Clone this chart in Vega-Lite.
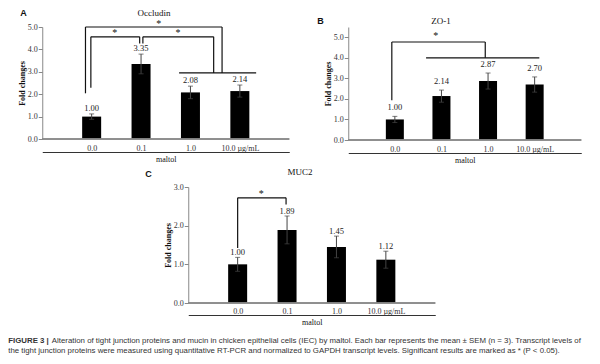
{
  "$schema": "https://vega.github.io/schema/vega-lite/v6.json",
  "background": "white",
  "padding": {"left": 8, "top": 8, "right": 5, "bottom": 5},
  "title": {
    "text": ["\u200b\u00a0\u00a0\u00a0\u00a0\u00a0\u00a0\u00a0\u00a0\u00a0\u00a0\u00a0\u00a0\u00a0\u00a0\u00a0\u00a0\u00a0\u00a0\u00a0\u00a0Alteration of tight junction proteins and mucin in chicken epithelial cells (IEC) by maltol. Each bar represents the mean \u00b1 SEM (n = 3). Transcript levels of", "the tight junction proteins were measured using quantitative RT-PCR and normalized to GAPDH transcript levels. Significant results are marked as * (P < 0.05)."],
    "orient": "bottom", "anchor": "start", "frame": "bounds",
    "font": "Liberation Sans", "fontSize": 7.85, "fontWeight": "normal", "color": "#333",
    "lineHeight": 9.5, "offset": -7.85
  },
  "vconcat": [
    {
      "title": {"text": "FIGURE 3 |", "orient": "bottom", "anchor": "start", "frame": "bounds",
        "font": "Liberation Sans", "fontSize": 7.85, "fontWeight": "bold", "color": "#333", "offset": 11, "dx": -10},
      "center": true,
      "spacing": 4,
      "vconcat": [
        {
          "spacing": 27,
          "hconcat": [
            {
              "title": {"text": "A", "anchor": "start", "frame": "bounds", "font": "Liberation Sans", "fontSize": 9, "fontWeight": "bold", "color": "#111", "offset": -9, "dx": 2},
              "vconcat": [
                {
                  "width": 247, "height": 112,
                  "title": {"text": "Occludin", "anchor": "middle", "frame": "bounds", "offset": 1},
                  "data": {"values": [
                    {"pos": 0, "mean": 1.00, "lo": 0.88, "hi": 1.12},
                    {"pos": 1, "mean": 3.35, "lo": 2.91, "hi": 3.79},
                    {"pos": 2, "mean": 2.08, "lo": 1.80, "hi": 2.36},
                    {"pos": 3, "mean": 2.14, "lo": 1.87, "hi": 2.41}
                  ]},
                  "layer": [
                    {
                      "mark": {"type": "bar", "size": 19, "color": "black"},
                      "encoding": {
                        "x": {"field": "pos", "type": "quantitative", "scale": {"domain": [-0.5, 3.5]}, "axis": {"title": "maltol", "values": [0, 1, 2, 3], "labelExpr": "['0.0','0.1','1.0','10.0 \u00b5g/mL'][datum.value]", "offset": 13, "ticks": false, "domainColor": "#333", "labelBaseline": "alphabetic", "labelPadding": -2, "titlePadding": 3, "labelOverlap": false, "labelFlush": false, "labelBound": false}},
                        "y": {"field": "mean", "type": "quantitative", "scale": {"domain": [0, 5]}, "axis": {"title": "Fold changes", "values": [0, 1, 2, 3, 4, 5], "format": ".1f", "labelOverlap": false}}
                      }
                    },
                    {
                      "mark": {"type": "errorbar", "ticks": {"size": 5}, "color": "#444"},
                      "encoding": {
                        "x": {"field": "pos", "type": "quantitative", "axis": {"title": "maltol", "values": [0, 1, 2, 3], "labelExpr": "['0.0','0.1','1.0','10.0 \u00b5g/mL'][datum.value]", "offset": 13, "ticks": false, "domainColor": "#333", "labelBaseline": "alphabetic", "labelPadding": -2, "titlePadding": 3, "labelOverlap": false, "labelFlush": false, "labelBound": false}},
                        "y": {"field": "lo", "type": "quantitative", "axis": {"title": "Fold changes", "values": [0, 1, 2, 3, 4, 5], "format": ".1f", "labelOverlap": false}},
                        "y2": {"field": "hi"}
                      }
                    },
                    {
                      "mark": {"type": "text", "baseline": "bottom", "dy": -1, "fontSize": 8.5, "color": "#222"},
                      "encoding": {
                        "x": {"field": "pos", "type": "quantitative", "axis": {"title": "maltol", "values": [0, 1, 2, 3], "labelExpr": "['0.0','0.1','1.0','10.0 \u00b5g/mL'][datum.value]", "offset": 13, "ticks": false, "domainColor": "#333", "labelBaseline": "alphabetic", "labelPadding": -2, "titlePadding": 3, "labelOverlap": false, "labelFlush": false, "labelBound": false}},
                        "y": {"field": "hi", "type": "quantitative", "axis": {"title": "Fold changes", "values": [0, 1, 2, 3, 4, 5], "format": ".1f", "labelOverlap": false}},
                        "text": {"field": "mean", "type": "quantitative", "format": ".2f"}
                      }
                    },
                    {
                      "mark": {"type": "rule", "color": "#888"},
                      "encoding": {"y": {"datum": 0, "type": "quantitative", "axis": {"title": "Fold changes", "values": [0, 1, 2, 3, 4, 5], "format": ".1f", "labelOverlap": false}}}
                    },
                    {
                      "data": {"values": [
                        {"x": -0.125, "x2": -0.125, "y": 2.04, "y2": 5.0},
                        {"x": -0.125, "x2": 2.64, "y": 5.0, "y2": 5.0},
                        {"x": 2.64, "x2": 2.64, "y": 2.95, "y2": 5.0},
                        {"x": -0.016, "x2": -0.016, "y": 2.29, "y2": 4.56},
                        {"x": -0.016, "x2": 0.972, "y": 4.56, "y2": 4.56},
                        {"x": 0.972, "x2": 0.972, "y": 4.26, "y2": 4.56},
                        {"x": 1.037, "x2": 1.037, "y": 4.26, "y2": 4.56},
                        {"x": 1.037, "x2": 2.47, "y": 4.56, "y2": 4.56},
                        {"x": 2.47, "x2": 2.47, "y": 2.95, "y2": 4.56},
                        {"x": 1.77, "x2": 3.33, "y": 2.95, "y2": 2.95}
                      ]},
                      "mark": {"type": "rule", "color": "#111", "strokeWidth": 1.2},
                      "encoding": {
                        "x": {"field": "x", "type": "quantitative", "axis": {"title": "maltol", "values": [0, 1, 2, 3], "labelExpr": "['0.0','0.1','1.0','10.0 \u00b5g/mL'][datum.value]", "offset": 13, "ticks": false, "domainColor": "#333", "labelBaseline": "alphabetic", "labelPadding": -2, "titlePadding": 3, "labelOverlap": false, "labelFlush": false, "labelBound": false}},
                        "x2": {"field": "x2"},
                        "y": {"field": "y", "type": "quantitative", "axis": {"title": "Fold changes", "values": [0, 1, 2, 3, 4, 5], "format": ".1f", "labelOverlap": false}},
                        "y2": {"field": "y2"}
                      }
                    },
                    {
                      "data": {"values": [
                        {"x": 1.36, "y": 5.15, "s": "*"},
                        {"x": 0.47, "y": 4.73, "s": "*"},
                        {"x": 1.75, "y": 4.73, "s": "*"}
                      ]},
                      "mark": {"type": "text", "fontSize": 10, "baseline": "middle", "color": "#111"},
                      "encoding": {
                        "x": {"field": "x", "type": "quantitative", "axis": {"title": "maltol", "values": [0, 1, 2, 3], "labelExpr": "['0.0','0.1','1.0','10.0 \u00b5g/mL'][datum.value]", "offset": 13, "ticks": false, "domainColor": "#333", "labelBaseline": "alphabetic", "labelPadding": -2, "titlePadding": 3, "labelOverlap": false, "labelFlush": false, "labelBound": false}},
                        "y": {"field": "y", "type": "quantitative", "axis": {"title": "Fold changes", "values": [0, 1, 2, 3, 4, 5], "format": ".1f", "labelOverlap": false}},
                        "text": {"field": "s"}
                      }
                    }
                  ]
                }
              ]
            },
            {
              "title": {"text": "B", "anchor": "start", "frame": "bounds", "font": "Liberation Sans", "fontSize": 9, "fontWeight": "bold", "color": "#111", "offset": -9.8, "dx": -7},
              "vconcat": [
                {
                  "width": 233, "height": 113,
                  "title": {"text": "ZO-1", "anchor": "middle", "frame": "bounds", "offset": 1.4, "dx": -12},
                  "data": {"values": [
                    {"pos": 0, "mean": 1.00, "lo": 0.85, "hi": 1.15},
                    {"pos": 1, "mean": 2.14, "lo": 1.84, "hi": 2.43},
                    {"pos": 2, "mean": 2.87, "lo": 2.48, "hi": 3.26},
                    {"pos": 3, "mean": 2.70, "lo": 2.33, "hi": 3.07}
                  ]},
                  "layer": [
                    {
                      "mark": {"type": "bar", "size": 18, "color": "black"},
                      "encoding": {
                        "x": {"field": "pos", "type": "quantitative", "scale": {"domain": [-0.5, 3.5]}, "axis": {"title": "maltol", "values": [0, 1, 2, 3], "labelExpr": "['0.0','0.1','1.0','10.0 \u00b5g/mL'][datum.value]", "offset": 13, "ticks": false, "domainColor": "#333", "labelBaseline": "alphabetic", "labelPadding": -2, "titlePadding": 3, "labelOverlap": false, "labelFlush": false, "labelBound": false}},
                        "y": {"field": "mean", "type": "quantitative", "scale": {"domain": [0, 5.27]}, "axis": {"title": "Fold changes", "values": [0, 1, 2, 3, 4, 5], "format": ".1f", "labelOverlap": false}}
                      }
                    },
                    {
                      "mark": {"type": "errorbar", "ticks": {"size": 5}, "color": "#444"},
                      "encoding": {
                        "x": {"field": "pos", "type": "quantitative", "axis": {"title": "maltol", "values": [0, 1, 2, 3], "labelExpr": "['0.0','0.1','1.0','10.0 \u00b5g/mL'][datum.value]", "offset": 13, "ticks": false, "domainColor": "#333", "labelBaseline": "alphabetic", "labelPadding": -2, "titlePadding": 3, "labelOverlap": false, "labelFlush": false, "labelBound": false}},
                        "y": {"field": "lo", "type": "quantitative", "axis": {"title": "Fold changes", "values": [0, 1, 2, 3, 4, 5], "format": ".1f", "labelOverlap": false}},
                        "y2": {"field": "hi"}
                      }
                    },
                    {
                      "mark": {"type": "text", "baseline": "bottom", "dy": -4, "fontSize": 8.5, "color": "#222"},
                      "encoding": {
                        "x": {"field": "pos", "type": "quantitative", "axis": {"title": "maltol", "values": [0, 1, 2, 3], "labelExpr": "['0.0','0.1','1.0','10.0 \u00b5g/mL'][datum.value]", "offset": 13, "ticks": false, "domainColor": "#333", "labelBaseline": "alphabetic", "labelPadding": -2, "titlePadding": 3, "labelOverlap": false, "labelFlush": false, "labelBound": false}},
                        "y": {"field": "hi", "type": "quantitative", "axis": {"title": "Fold changes", "values": [0, 1, 2, 3, 4, 5], "format": ".1f", "labelOverlap": false}},
                        "text": {"field": "mean", "type": "quantitative", "format": ".2f"}
                      }
                    },
                    {
                      "mark": {"type": "rule", "color": "#888"},
                      "encoding": {"y": {"datum": 0, "type": "quantitative", "axis": {"title": "Fold changes", "values": [0, 1, 2, 3, 4, 5], "format": ".1f", "labelOverlap": false}}}
                    },
                    {
                      "data": {"values": [
                        {"x": -0.065, "x2": -0.065, "y": 1.93, "y2": 4.77},
                        {"x": -0.065, "x2": 1.94, "y": 4.77, "y2": 4.77},
                        {"x": 1.94, "x2": 1.94, "y": 4.0, "y2": 4.77},
                        {"x": 0.67, "x2": 3.1, "y": 4.0, "y2": 4.0}
                      ]},
                      "mark": {"type": "rule", "color": "#111", "strokeWidth": 1.2},
                      "encoding": {
                        "x": {"field": "x", "type": "quantitative", "axis": {"title": "maltol", "values": [0, 1, 2, 3], "labelExpr": "['0.0','0.1','1.0','10.0 \u00b5g/mL'][datum.value]", "offset": 13, "ticks": false, "domainColor": "#333", "labelBaseline": "alphabetic", "labelPadding": -2, "titlePadding": 3, "labelOverlap": false, "labelFlush": false, "labelBound": false}},
                        "x2": {"field": "x2"},
                        "y": {"field": "y", "type": "quantitative", "axis": {"title": "Fold changes", "values": [0, 1, 2, 3, 4, 5], "format": ".1f", "labelOverlap": false}},
                        "y2": {"field": "y2"}
                      }
                    },
                    {
                      "data": {"values": [{"x": 0.88, "y": 5.07, "s": "*"}]},
                      "mark": {"type": "text", "fontSize": 10, "baseline": "middle", "color": "#111"},
                      "encoding": {
                        "x": {"field": "x", "type": "quantitative", "axis": {"title": "maltol", "values": [0, 1, 2, 3], "labelExpr": "['0.0','0.1','1.0','10.0 \u00b5g/mL'][datum.value]", "offset": 13, "ticks": false, "domainColor": "#333", "labelBaseline": "alphabetic", "labelPadding": -2, "titlePadding": 3, "labelOverlap": false, "labelFlush": false, "labelBound": false}},
                        "y": {"field": "y", "type": "quantitative", "axis": {"title": "Fold changes", "values": [0, 1, 2, 3, 4, 5], "format": ".1f", "labelOverlap": false}},
                        "text": {"field": "s"}
                      }
                    }
                  ]
                }
              ]
            }
          ]
        },
        {
          "title": {"text": "C", "anchor": "start", "frame": "bounds", "font": "Liberation Sans", "fontSize": 9, "fontWeight": "bold", "color": "#111", "offset": -11, "dx": -19},
          "vconcat": [
            {
              "width": 247, "height": 116,
              "title": {"text": "MUC2", "anchor": "middle", "frame": "bounds", "offset": 6},
              "data": {"values": [
                {"pos": 0, "mean": 1.00, "lo": 0.82, "hi": 1.18},
                {"pos": 1, "mean": 1.89, "lo": 1.53, "hi": 2.25},
                {"pos": 2, "mean": 1.45, "lo": 1.17, "hi": 1.73},
                {"pos": 3, "mean": 1.12, "lo": 0.90, "hi": 1.34}
              ]},
              "layer": [
                {
                  "mark": {"type": "bar", "size": 19, "color": "black"},
                  "encoding": {
                    "x": {"field": "pos", "type": "quantitative", "scale": {"domain": [-0.5, 3.5]}, "axis": {"title": "maltol", "values": [0, 1, 2, 3], "labelExpr": "['0.0','0.1','1.0','10.0 \u00b5g/mL'][datum.value]", "offset": 12, "ticks": false, "domainColor": "#333", "labelBaseline": "alphabetic", "labelPadding": -2, "titlePadding": 3, "labelOverlap": false, "labelFlush": false, "labelBound": false}},
                    "y": {"field": "mean", "type": "quantitative", "scale": {"domain": [0, 3]}, "axis": {"title": "Fold changes", "values": [0, 1, 2, 3], "format": ".1f", "labelOverlap": false}}
                  }
                },
                {
                  "mark": {"type": "errorbar", "ticks": {"size": 5}, "color": "#444"},
                  "encoding": {
                    "x": {"field": "pos", "type": "quantitative", "axis": {"title": "maltol", "values": [0, 1, 2, 3], "labelExpr": "['0.0','0.1','1.0','10.0 \u00b5g/mL'][datum.value]", "offset": 12, "ticks": false, "domainColor": "#333", "labelBaseline": "alphabetic", "labelPadding": -2, "titlePadding": 3, "labelOverlap": false, "labelFlush": false, "labelBound": false}},
                    "y": {"field": "lo", "type": "quantitative", "axis": {"title": "Fold changes", "values": [0, 1, 2, 3], "format": ".1f", "labelOverlap": false}},
                    "y2": {"field": "hi"}
                  }
                },
                {
                  "mark": {"type": "text", "baseline": "bottom", "dy": 0, "fontSize": 8.5, "color": "#222"},
                  "encoding": {
                    "x": {"field": "pos", "type": "quantitative", "axis": {"title": "maltol", "values": [0, 1, 2, 3], "labelExpr": "['0.0','0.1','1.0','10.0 \u00b5g/mL'][datum.value]", "offset": 12, "ticks": false, "domainColor": "#333", "labelBaseline": "alphabetic", "labelPadding": -2, "titlePadding": 3, "labelOverlap": false, "labelFlush": false, "labelBound": false}},
                    "y": {"field": "hi", "type": "quantitative", "axis": {"title": "Fold changes", "values": [0, 1, 2, 3], "format": ".1f", "labelOverlap": false}},
                    "text": {"field": "mean", "type": "quantitative", "format": ".2f"}
                  }
                },
                {
                  "mark": {"type": "rule", "color": "#888"},
                  "encoding": {"y": {"datum": 0, "type": "quantitative", "axis": {"title": "Fold changes", "values": [0, 1, 2, 3], "format": ".1f", "labelOverlap": false}}}
                },
                {
                  "data": {"values": [
                    {"x": 0.0, "x2": 0.0, "y": 1.42, "y2": 2.72},
                    {"x": 0.0, "x2": 0.98, "y": 2.72, "y2": 2.72},
                    {"x": 0.98, "x2": 0.98, "y": 2.55, "y2": 2.72}
                  ]},
                  "mark": {"type": "rule", "color": "#111", "strokeWidth": 1.2},
                  "encoding": {
                    "x": {"field": "x", "type": "quantitative", "axis": {"title": "maltol", "values": [0, 1, 2, 3], "labelExpr": "['0.0','0.1','1.0','10.0 \u00b5g/mL'][datum.value]", "offset": 12, "ticks": false, "domainColor": "#333", "labelBaseline": "alphabetic", "labelPadding": -2, "titlePadding": 3, "labelOverlap": false, "labelFlush": false, "labelBound": false}},
                    "x2": {"field": "x2"},
                    "y": {"field": "y", "type": "quantitative", "axis": {"title": "Fold changes", "values": [0, 1, 2, 3], "format": ".1f", "labelOverlap": false}},
                    "y2": {"field": "y2"}
                  }
                },
                {
                  "data": {"values": [{"x": 0.48, "y": 2.83, "s": "*"}]},
                  "mark": {"type": "text", "fontSize": 10, "baseline": "middle", "color": "#111"},
                  "encoding": {
                    "x": {"field": "x", "type": "quantitative", "axis": {"title": "maltol", "values": [0, 1, 2, 3], "labelExpr": "['0.0','0.1','1.0','10.0 \u00b5g/mL'][datum.value]", "offset": 12, "ticks": false, "domainColor": "#333", "labelBaseline": "alphabetic", "labelPadding": -2, "titlePadding": 3, "labelOverlap": false, "labelFlush": false, "labelBound": false}},
                    "y": {"field": "y", "type": "quantitative", "axis": {"title": "Fold changes", "values": [0, 1, 2, 3], "format": ".1f", "labelOverlap": false}},
                    "text": {"field": "s"}
                  }
                }
              ]
            }
          ]
        }
      ]
    }
  ],
  "config": {
    "view": {"stroke": null},
    "font": "Liberation Serif",
    "axis": {"grid": false, "labelFont": "Liberation Serif", "labelFontSize": 8, "labelColor": "#333", "titleFont": "Liberation Serif", "titleFontSize": 8, "titleColor": "#111", "domainColor": "#888", "tickColor": "#888"},
    "axisY": {"tickSize": 4, "labelPadding": 1, "titleFontWeight": "bold", "titlePadding": 1},
    "axisX": {"titleFontWeight": "normal"},
    "title": {"font": "Liberation Serif", "fontSize": 9, "fontWeight": "normal", "color": "#111"}
  }
}
